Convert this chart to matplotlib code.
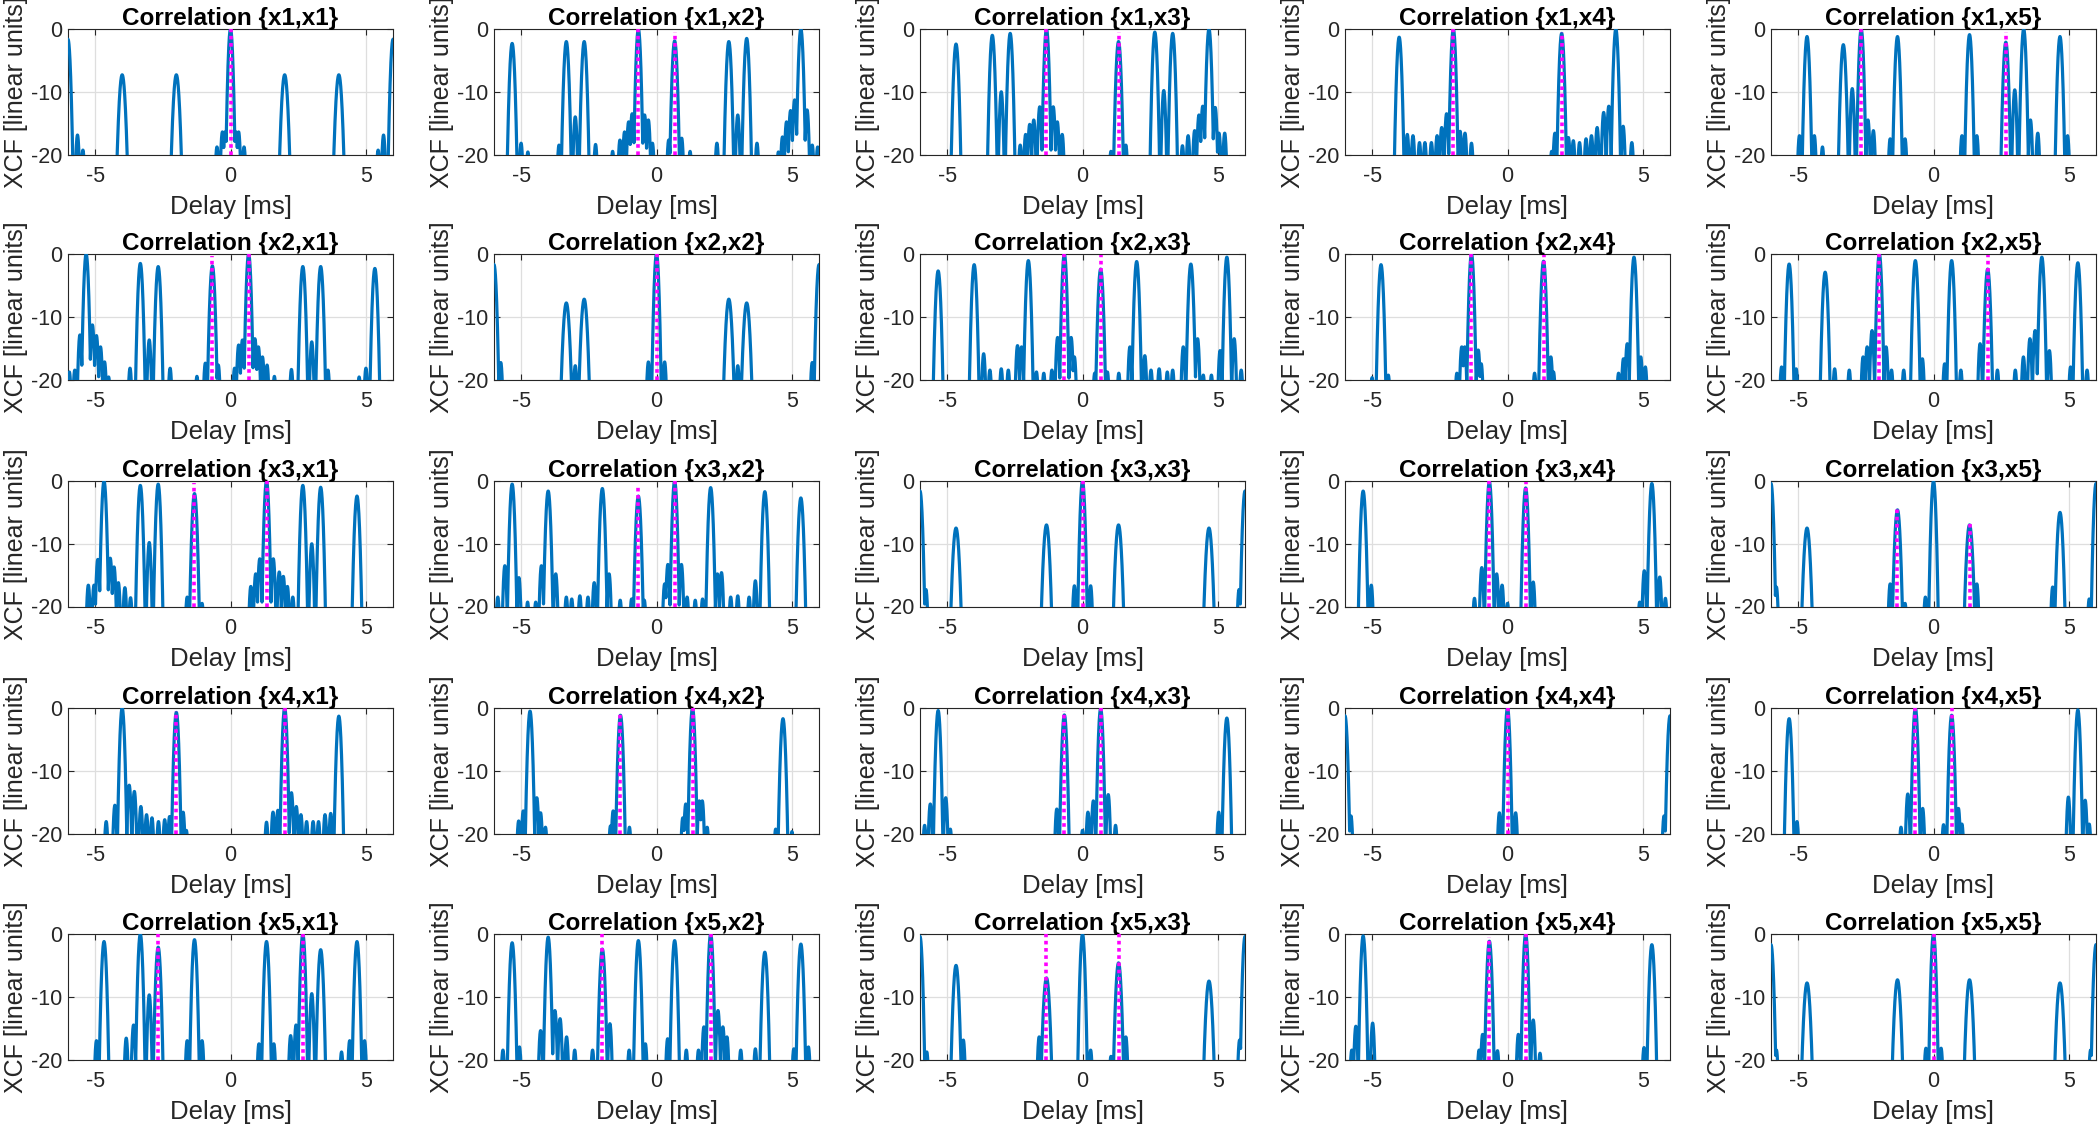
import numpy as np
import matplotlib
matplotlib.use('Agg')
from matplotlib import pyplot as plt

# peak lobes of the correlation: (delay in ms, level in dB)
# only the upper triangle and the diagonal are listed, {xj,xi} is {xi,xj} mirrored in delay
lobes_11 = [(-6, -1.65), (-4, -7.3), (-2, -7.3), (0, 0), (2, -7.3), (4, -7.3), (6, -1.65)]
lobes_12 = [(-5.33, -2.3), (-3.33, -2.0), (-2.67, -2.0), (-0.67, 0), (0.67, -1.9), (2.67, -2.0), (3.33, -1.5), (5.33, 0)]
lobes_13 = [(-4.67, -2.4), (-3.33, -1.0), (-2.67, -0.7), (-1.33, 0), (1.33, -2.0), (2.67, -0.5), (3.33, -0.7), (4.67, 0)]
lobes_14 = [(-4, -1.3), (-2, 0), (2, -0.7), (4, 0)]
lobes_15 = [(-4.67, -1.2), (-3.33, -2.5), (-2.67, 0), (-1.33, -1.2), (1.33, -0.9), (2.67, -2.1), (3.33, 0), (4.67, -1.2)]
lobes_22 = [(-6, -1.7), (-3.33, -7.8), (-2.67, -7.2), (0, 0), (2.67, -7.2), (3.33, -7.8), (6, -1.7)]
lobes_23 = [(-5.33, -2.7), (-4, -1.7), (-2, -1.05), (-0.67, 0), (0.67, -2.4), (2, -1.2), (4, -1.6), (5.33, -0.5)]
lobes_24 = [(-4.67, -1.7), (-1.33, 0), (1.33, -1.15), (4.67, -0.5)]
lobes_25 = [(-5.33, -1.6), (-4, -2.9), (-2, 0), (-0.67, -1.05), (0.67, -1.05), (2, -2.4), (4, -0.5), (5.33, -1.4)]
lobes_33 = [(-6, -1.6), (-4.67, -7.5), (-1.33, -7.0), (0, 0), (1.33, -7.0), (4.67, -7.5), (6, -1.6)]
lobes_34 = [(-5.33, -1.6), (-0.67, -0.1), (0.67, -1.1), (5.33, -0.4)]
lobes_35 = [(-6, -0.4), (-4.67, -7.5), (-1.33, -4.6), (0, 0), (1.33, -7.0), (4.67, -5.0), (6, -0.4)]
lobes_44 = [(-6, -1.25), (0, 0), (6, -1.25)]
lobes_45 = [(-5.33, -1.7), (-0.67, 0), (0.67, -1.15), (5.33, -0.3)]
lobes_55 = [(-6, -1.7), (-4.67, -7.8), (-1.33, -7.3), (0, 0), (1.33, -7.3), (4.67, -7.8), (6, -1.7)]

# small side lobes near the bottom of the scale
side_11 = [(-5.65, -16.9), (-5.45, -19.3), (-0.5, -18.8), (-0.3, -16.4), (-0.2, -16.4),
           (0.2, -16.4), (0.3, -16.4), (0.5, -18.8), (5.45, -19.3), (5.65, -16.9)]
side_12 = [(-5.0, -18.2), (-4.75, -19.6), (-3.6, -18.5), (-3.0, -14.0), (-2.25, -18.4), (-1.62, -19.5),
           (-1.35, -17.7), (-1.18, -16.4), (-1.03, -14.8), (-0.9, -13.5), (-0.44, -13.7), (-0.3, -14.5),
           (-0.15, -18.2), (0.45, -17.7), (0.93, -17.4), (1.24, -19.5), (2.23, -18.2), (3.0, -13.7),
           (3.71, -18.2), (4.5, -19.6), (4.65, -17.2), (4.8, -14.8), (4.95, -13.0), (5.1, -11.3),
           (5.56, -12.9), (5.75, -18.5), (5.95, -18.8)]
side_13 = [(-3.0, -10.0), (-2.3, -18.5), (-2.1, -16.8), (-1.95, -15.2), (-1.8, -14.5), (-1.58, -12.4),
           (-1.08, -12.4), (-0.93, -14.8), (-0.75, -16.8), (1.05, -19.5), (1.6, -18.5), (3.0, -9.8),
           (3.69, -18.6), (3.9, -17.0), (4.14, -16.2), (4.3, -13.7), (4.44, -12.3), (4.9, -12.5),
           (5.04, -16.6), (5.25, -16.6)]
side_14 = [(-3.7, -16.8), (-3.49, -17.0), (-3.25, -18.1), (-3.05, -18.1), (-2.81, -18.1), (-2.6, -17.0),
           (-2.43, -15.7), (-2.25, -13.5), (-1.75, -16.3), (-1.57, -16.6), (-1.33, -18.2), (1.63, -19.5),
           (1.75, -16.6), (2.25, -17.3), (2.43, -17.8), (2.66, -18.1), (2.9, -17.5), (3.1, -17.0),
           (3.31, -15.7), (3.55, -13.3), (3.74, -12.3), (4.27, -15.5), (4.59, -18.1)]
side_15 = [(-4.95, -17.0), (-4.4, -17.0), (-4.1, -18.8), (-3.0, -9.5), (-2.42, -14.5), (-2.22, -16.2),
           (-1.6, -17.5), (-1.05, -17.5), (1.05, -17.0), (1.6, -17.0), (3.0, -9.7), (3.58, -14.5),
           (3.85, -16.6), (4.95, -17.0)]
side_22 = [(-5.75, -17.3), (-3.0, -17.8), (-0.3, -17.2), (0.3, -17.2), (3.0, -17.8), (5.75, -17.3)]
side_23 = [(-3.65, -15.9), (-3.42, -18.5), (-3.0, -18.3), (-2.74, -18.5), (-2.4, -14.6), (-2.25, -14.8),
           (-1.7, -18.8), (-1.43, -19.0), (-1.13, -18.5), (-0.92, -13.3), (-0.42, -13.3), (-0.3, -16.4),
           (0.45, -19.0), (0.92, -18.8), (1.34, -19.0), (1.75, -14.8), (2.3, -16.2), (2.53, -18.5),
           (2.83, -18.3), (3.13, -18.8), (3.33, -18.5), (3.72, -14.8), (4.25, -13.5), (4.46, -19.3),
           (4.76, -19.3), (5.06, -18.5), (5.08, -15.4), (5.6, -13.5), (5.86, -18.5)]
side_24 = [(-5.0, -19.7), (-4.4, -19.3), (-1.87, -19.0), (-1.69, -14.8), (-1.58, -14.8), (-1.08, -15.3),
           (-0.97, -17.5), (1.0, -19.0), (1.6, -16.4), (1.7, -18.8), (4.1, -19.0), (4.28, -16.7),
           (4.42, -14.3), (4.92, -16.4), (5.09, -18.0)]
side_25 = [(-5.61, -18.0), (-5.07, -18.3), (-3.65, -18.3), (-3.11, -18.5), (-2.6, -16.4), (-2.45, -14.8),
           (-2.27, -12.2), (-1.75, -14.8), (-1.55, -18.5), (-1.1, -18.5), (-0.41, -16.7), (0.41, -17.5),
           (1.01, -18.5), (1.72, -14.3), (2.36, -18.5), (3.02, -18.5), (3.32, -16.4), (3.56, -13.5),
           (3.75, -12.2), (4.28, -15.4), (5.06, -18.0), (5.67, -18.5)]
side_33 = [(-5.78, -17.3), (-0.3, -16.7), (0.3, -16.7), (5.78, -17.3)]
side_34 = [(-5.03, -16.6), (-1.22, -18.7), (-0.95, -13.8), (-0.4, -14.8), (-0.2, -16.6), (0.0, -19.5),
           (0.95, -16.1), (4.88, -19.3), (5.05, -14.3), (5.62, -15.3), (5.83, -18.7)]
side_35 = [(-5.8, -16.9), (-1.6, -16.4), (-1.05, -19.5), (-0.3, -18.5), (1.6, -16.4), (4.4, -16.9), (5.75, -18.8)]
side_44 = [(-5.78, -17.2), (-0.3, -16.7), (0.3, -16.7), (5.78, -17.2)]
side_45 = [(-5.04, -18.1), (-1.2, -19.0), (-0.95, -13.7), (-0.4, -16.0), (0.37, -18.6), (0.92, -16.0),
           (1.05, -18.5), (4.98, -14.2), (5.6, -14.7), (5.75, -18.5)]
side_55 = [(-5.8, -18.5), (-0.28, -18.2), (0.28, -18.2), (5.8, -18.5)]

# magenta dotted markers: (delay in ms, top of the line in dB), one list per panel
true_11 = [(0, 0)]
true_12 = [(-0.67, 0), (0.67, -0.4)]
true_13 = [(-1.33, 0), (1.33, -0.5)]
true_14 = [(-2, 0), (2, -0.5)]
true_15 = [(-2.67, 0), (2.67, -0.5)]
true_21 = [(-0.67, -0.3), (0.67, 0)]
true_22 = [(0, 0)]
true_23 = [(-0.67, 0), (0.67, -0.2)]
true_24 = [(-1.33, 0), (1.33, -0.2)]
true_25 = [(-2, 0), (2, -0.1)]
true_31 = [(-1.33, -0.3), (1.33, 0)]
true_32 = [(-0.67, -0.7), (0.67, 0)]
true_33 = [(0, 0)]
true_34 = [(-0.67, 0), (0.67, -0.2)]
true_35 = [(-1.33, -4.1), (1.33, -6.4)]
true_41 = [(-2, -0.4), (2, 0)]
true_42 = [(-1.33, -0.6), (1.33, 0)]
true_43 = [(-0.67, -0.4), (0.67, 0)]
true_44 = [(0, 0)]
true_45 = [(-0.67, 0), (0.67, 0)]
true_51 = [(-2.67, 0), (2.67, 0)]
true_52 = [(-2, 0), (2, 0)]
true_53 = [(-1.33, 0), (1.33, 0)]
true_54 = [(-0.67, -0.4), (0.67, 0)]
true_55 = [(0, 0)]

names = ['x1', 'x2', 'x3', 'x4', 'x5']
x_ticks = [-5, 0, 5]
y_ticks = [-20, -10, 0]


def main_lobe(x, c, h):
    # rounded top, reaches the -20 floor about 0.17-0.19 ms from the peak
    hw = 0.17 - 0.002 * h
    return h - (h + 20) * ((x - c) / hw) ** 2


def side_lobe(x, c, h):
    # narrow spike, fixed curvature
    return h - 1000.0 * (x - c) ** 2


def curve(x, lobes, side):
    y = np.full_like(x, -60.0)
    for c, h in lobes:
        y = np.maximum(y, main_lobe(x, c, h))
    for c, h in side:
        y = np.maximum(y, side_lobe(x, c, h))
    return y


def panel_data(i, j):
    g = globals()
    if i <= j:
        key = '%d%d' % (i + 1, j + 1)
        return g['lobes_' + key], g['side_' + key]
    key = '%d%d' % (j + 1, i + 1)
    lob = [(-c, h) for c, h in g['lobes_' + key]]
    sd = [(-c, h) for c, h in g['side_' + key]]
    return lob, sd


plt.rcParams['font.family'] = ['Liberation Sans', 'DejaVu Sans']
plt.rcParams['axes.unicode_minus'] = False

fig = plt.figure(figsize=(21, 11.27), dpi=100)
W, H = 2100.0, 1127.0
col_left = [68, 494, 920, 1345, 1771]
row_top = [29, 254, 481, 708, 934]
aw, ah = 325, 125.5

x = np.linspace(-6, 6, 12001)
for i in range(5):
    for j in range(5):
        ax = fig.add_axes([col_left[j] / W, 1 - (row_top[i] + ah) / H, aw / W, ah / H])
        lob, sd = panel_data(i, j)
        ax.plot(x, curve(x, lob, sd), color='#0072BD', lw=2.3, zorder=3)
        for c, top in globals()['true_%d%d' % (i + 1, j + 1)]:
            ax.plot([c, c], [-20, top], color='#FF00FF', lw=2.6, ls=(0, (1, 1)),
                    dash_capstyle='butt', zorder=4)
        ax.set_xlim(-6, 6)
        ax.set_ylim(-20, 0)
        ax.set_xticks(x_ticks)
        ax.set_yticks(y_ticks)
        ax.grid(True, color='#dedede', lw=0.9, zorder=0)
        ax.set_axisbelow(True)
        ax.tick_params(direction='in', top=True, right=True, length=4, width=0.8,
                       color='#262626', labelsize=15.5, labelcolor='#262626')
        ax.tick_params(axis='x', pad=8)
        ax.tick_params(axis='y', pad=4)
        for s in ax.spines.values():
            s.set_color('#262626')
            s.set_linewidth(0.8)
        ax.set_title('Correlation {%s,%s}' % (names[i], names[j]), fontsize=17.5,
                     fontweight='bold', pad=3)
        ax.set_xlabel('Delay [ms]', fontsize=18.5, color='#262626', labelpad=6)
        ax.set_ylabel('XCF [linear units]', fontsize=18, color='#262626', labelpad=2)

fig.savefig('out.png', dpi=100)
